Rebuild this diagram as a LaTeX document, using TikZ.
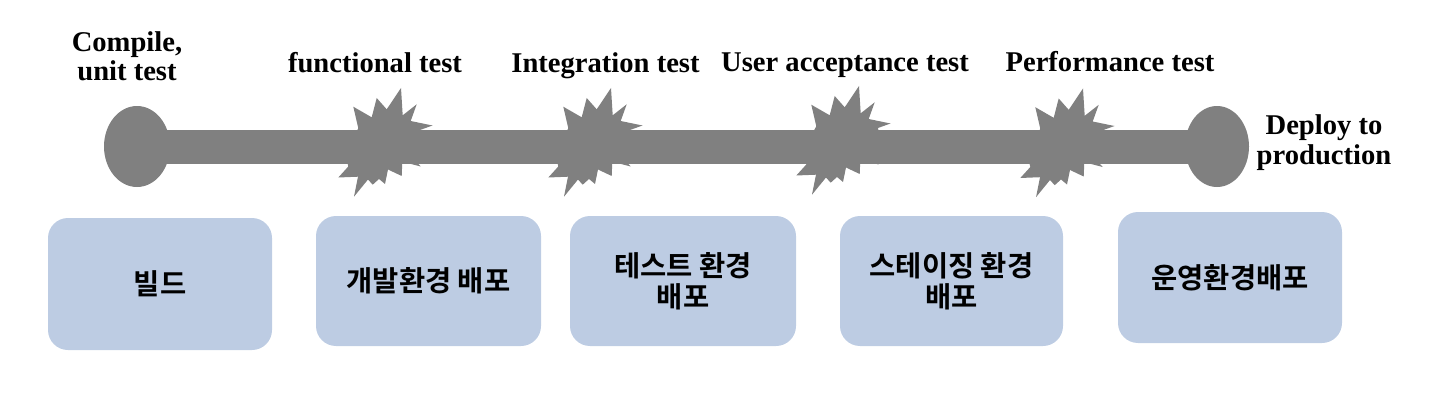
\documentclass[tikz,border=0pt]{standalone}
\usepackage{fontspec}
\setmainfont{Liberation Serif}
\newfontfamily\krfont{Noto Sans CJK KR Bold}
\usetikzlibrary{shapes.geometric}
\definecolor{bargray}{RGB}{128,128,128}
\definecolor{boxblue}{RGB}{189,204,227}
\begin{document}
\begin{tikzpicture}[x=1pt,y=-1pt,
  lbl/.style={font=\fontsize{28.6}{29}\selectfont\bfseries, inner sep=0pt, anchor=base},
  stage/.style={rectangle, rounded corners=20pt, fill=boxblue, inner sep=0pt, align=center,
    font=\krfont\fontsize{28.5}{31}\selectfont},
  endpt/.style={ellipse, fill=bargray, inner sep=0pt},
  burst/.pic={\fill[bargray] (16,-54) -- (17.7,-26.7) -- (31.7,-37.7) -- (25.7,-21) -- (47.5,-16.5)
     -- (35,-12) -- (38,5) -- (28,16) -- (35.7,24.5) -- (17.3,19.7) -- (16.7,34) -- (3,27.5)
     -- (0,42) -- (-6,37) -- (-12.3,42.7) -- (-17,37.5) -- (-31,54.7) -- (-27,34.7)
     -- (-46.7,35.5) -- (-36.7,24.5) -- (-40,10) -- (-26.7,-13.7) -- (-31.7,-35.3) -- (-13.3,-24.7)
     -- (-8.3,-44) -- (1.7,-32.7) -- cycle;}
]
\useasboundingbox (0,0) rectangle (1444,412);
% timeline bar
\coordinate (s) at (137,146.5);
\coordinate (e) at (1217,146.5);
\draw[bargray, line width=34pt] (s) -- (e);
\node[endpt, minimum width=66pt, minimum height=81pt] (start) at (s) {};
\node[endpt, minimum width=64pt, minimum height=81pt] (finish) at (e) {};
% bursts
\pic at (385,142) {burst};
\pic at (595,142) {burst};
\pic at (843,140) {burst};
\pic at (1067,142.5) {burst};
% top labels
\node[lbl] (l1) at (127,52) {\begin{tabular}[t]{@{}c@{}}Compile,\\unit test\end{tabular}};
\node[lbl] (l2) at (375,73) {functional test};
\node[lbl] (l3) at (605.5,73) {Integration test};
\node[lbl] (l4) at (845,72) {User acceptance test};
\node[lbl] (l5) at (1110,71) {Performance test};
\node[lbl] (l6) at (1324,135) {\begin{tabular}[t]{@{}c@{}}Deploy to\\production\end{tabular}};
% stage boxes
\node[stage, minimum width=224pt, minimum height=132pt] (b1) at (160,284) {빌드};
\node[stage, minimum width=225pt, minimum height=130pt] (b2) at (428.5,281) {개발환경 배포};
\node[stage, minimum width=226pt, minimum height=130pt] (b3) at (683,281) {테스트 환경\\배포};
\node[stage, minimum width=223pt, minimum height=130pt] (b4) at (951.5,281) {스테이징 환경\\배포};
\node[stage, minimum width=224pt, minimum height=131pt] (b5) at (1230,277.5) {운영환경배포};
\end{tikzpicture}
\end{document}
